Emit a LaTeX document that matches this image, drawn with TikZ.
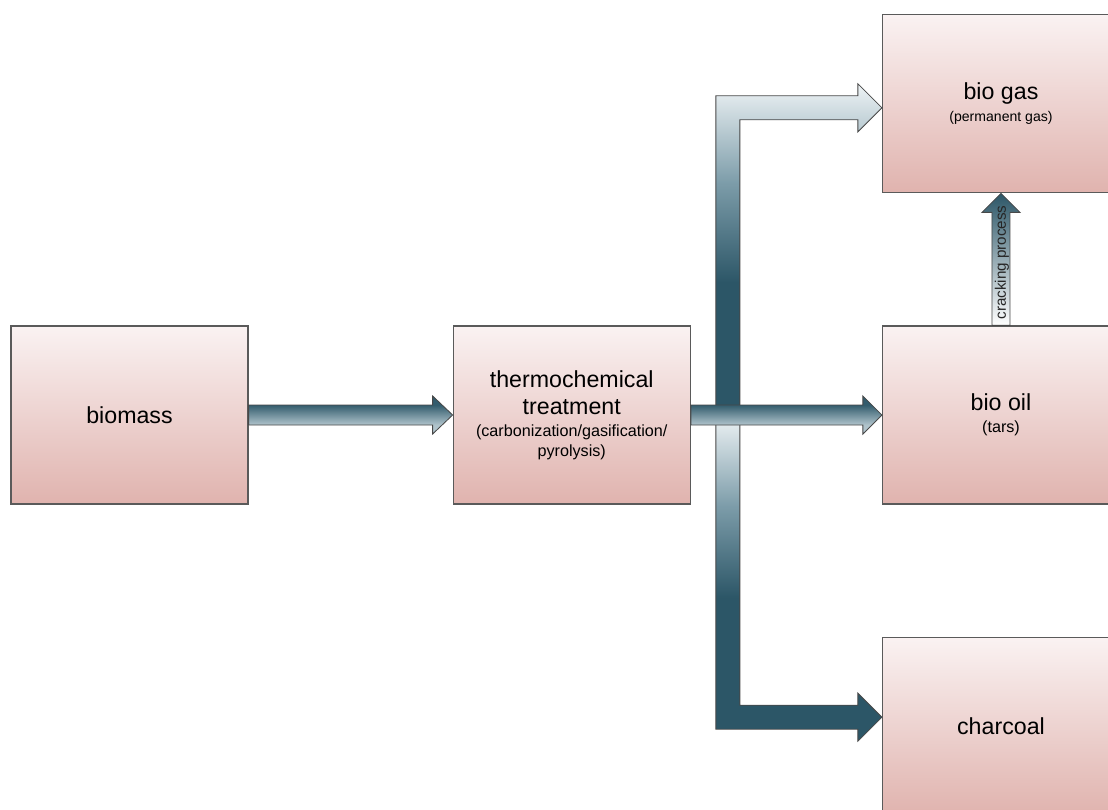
\documentclass[tikz,border=0pt]{standalone}
\usepackage{fontspec}
\setmainfont{Liberation Sans}
\usetikzlibrary{calc,positioning}

\definecolor{boxtop}{HTML}{FAF2F2}
\definecolor{boxbottom}{HTML}{E0B3AE}
\definecolor{boxline}{HTML}{5A5A5A}
\definecolor{flowdark}{HTML}{2C5667}
\definecolor{flowmid}{HTML}{7C9CA9}
\definecolor{flowlight}{HTML}{EEF3F5}
\definecolor{flowline}{HTML}{484848}

\pgfdeclareverticalshading{flowup}{100bp}{color(0bp)=(flowdark); color(45bp)=(flowdark); color(60bp)=(flowmid); color(75bp)=(flowlight); color(100bp)=(flowlight)}
\pgfdeclareverticalshading{flowdown}{100bp}{color(0bp)=(flowdark); color(47bp)=(flowdark); color(61bp)=(flowmid); color(75bp)=(flowlight); color(100bp)=(flowlight)}
\pgfdeclareverticalshading{flowflat}{100bp}{color(0bp)=(flowlight!55!flowmid); color(37bp)=(flowlight!45!flowmid); color(63bp)=(flowdark!90!flowmid); color(100bp)=(flowdark)}

\newcommand{\mainsize}{\fontsize{16.5}{20}\selectfont}
\newcommand{\subsize}{\fontsize{11.5}{14}\selectfont}
\newcommand{\notesize}{\fontsize{10}{12}\selectfont}

\begin{document}
\begin{tikzpicture}[x=0.025cm, y=-0.025cm,
	stage/.style={draw=boxline, line width=0.8pt, top color=boxtop, bottom color=boxbottom,
		minimum width=5.925cm, minimum height=4.45cm, inner sep=0pt, align=center, font=\mainsize},
	flow/.style={draw=flowline, line width=0.6pt},
	flatflow/.style={flow, shading=flowflat}]
	\path[use as bounding box, clip] (0,0) rectangle (1108,809);

	% stages
	\node[stage] (biomass) at (129.5,415) {biomass};
	\node[stage, right=5.1cm of biomass] (thermo) {thermochemical\\[-1pt]treatment\\[-4pt]{\subsize (carbonization/gasification/}\\[-6pt]{\subsize pyrolysis)}};
	\node[stage, right=4.775cm of thermo] (oil) {bio oil\\[-4pt]{\subsize (tars)}};
	\node[stage, above=3.3cm of oil] (gas) {bio gas\\[-4pt]{\notesize (permanent gas)}};
	\node[stage, below=3.3cm of oil] (coal) {charcoal};

	\coordinate (fork) at ($(thermo.east)+(25,0)$);
	\coordinate (gastip) at ($(gas.west)+(0,4)$);
	\coordinate (coaltip) at ($(coal.west)+(0,-9)$);

	% branch arrows
	\shadedraw[flow, shading=flowup] (fork) |- ($(gastip)+(-24,-12)$) -- ($(gastip)+(-24,-24)$) -- (gastip)
		-- ($(gastip)+(-24,24)$) -- ($(gastip)+(-24,12)$) -| ($(fork)+(24,0)$) -- cycle;
	\shadedraw[flow, shading=flowdown] (fork) |- ($(coaltip)+(-24,12)$) -- ($(coaltip)+(-24,24)$) -- (coaltip)
		-- ($(coaltip)+(-24,-24)$) -- ($(coaltip)+(-24,-12)$) -| ($(fork)+(24,0)$) -- cycle;

	% straight arrows
	\shadedraw[flatflow] ($(biomass.east)+(0,-10)$) -- ($(thermo.west)+(-20,-10)$) -- ($(thermo.west)+(-20,-19)$)
		-- (thermo.west) -- ($(thermo.west)+(-20,19)$) -- ($(thermo.west)+(-20,10)$) -- ($(biomass.east)+(0,10)$) -- cycle;
	\shadedraw[flatflow] ($(thermo.east)+(0,-10)$) -- ($(oil.west)+(-19,-10)$) -- ($(oil.west)+(-19,-19)$)
		-- (oil.west) -- ($(oil.west)+(-19,19)$) -- ($(oil.west)+(-19,10)$) -- ($(thermo.east)+(0,10)$) -- cycle;

	% cracking
	\shadedraw[flow, top color=flowdark, bottom color=white] ($(oil.north)+(-9,0)$) -- ($(gas.south)+(-9,19)$)
		-- ($(gas.south)+(-19,19)$) -- (gas.south) -- ($(gas.south)+(19,19)$) -- ($(gas.south)+(9,19)$)
		-- ($(oil.north)+(9,0)$) -- cycle;
	\node[rotate=90, inner sep=0pt, font=\fontsize{10.8}{12}\selectfont, text=black!85] (crack) at ($(oil.north)!0.5!(gas.south)+(1,3)$) {cracking process};
\end{tikzpicture}
\end{document}
